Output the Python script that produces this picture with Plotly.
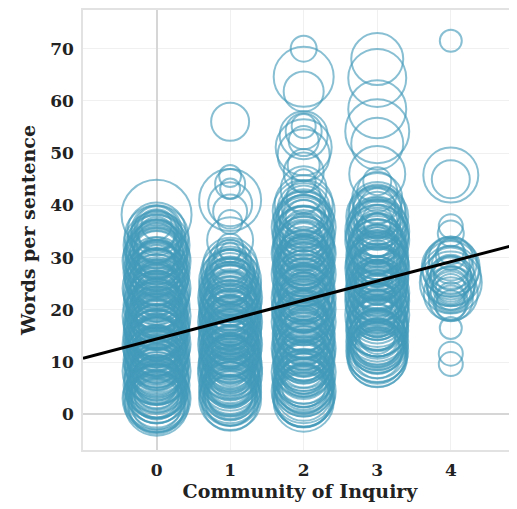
import plotly.graph_objects as go

# ---- data: (words per sentence, marker diameter) per Community-of-Inquiry level ----
coi_levels = [0, 1, 2, 3, 4]

cat0 = [(38.2,70),(35.6,44),(35.0,58),(34.3,36),(33.9,64),(33.4,50),(32.8,40),(32.4,66),(31.9,54),(31.3,46),(30.8,62),(30.2,38),(29.8,56),(29.3,68),(28.7,48),
        (28.2,60),(27.8,42),(27.1,66),(26.7,52),(26.0,36),(25.6,62),(25.2,46),(24.5,58),(24.1,68),(23.7,40),(23.2,54),(22.6,64),(22.3,48),(21.7,60),(21.4,38),
        (20.9,66),(20.5,52),(20.0,44),(19.7,62),(19.1,56),(18.8,68),(18.3,40),(17.9,58),(17.5,50),(17.0,64),(16.7,46),(16.2,60),(15.8,36),(15.3,66),(15.0,54),
        (14.6,42),(14.1,62),(13.8,50),(13.4,68),(12.9,58),(12.5,44),(12.2,64),(11.7,52),(11.3,60),(10.9,38),(10.4,66),(10.0,56),(9.6,48),(9.1,62),(8.7,42),
        (8.3,68),(7.8,54),(7.5,60),(7.0,46),(6.5,64),(6.1,52),(5.6,66),(5.2,44),(4.7,58),(4.3,62),(3.8,50),(3.3,66),(2.8,56),(2.5,62),(3.0,68),
        (34.0,52),(31.6,60),(29.0,44),(26.4,64),(23.9,50),(21.9,58),(19.4,48),(17.2,66),(15.6,56),(13.2,40),(11.1,62),(8.9,58),(6.8,48),(4.5,54),(27.5,56),
        (30.0,66),(24.9,42),(20.2,60),(16.0,52),(12.0,48),(8.0,64),(5.0,60),(22.9,44),(18.5,62),(14.4,58),(10.2,46),(32.9,58),(28.4,52),(21.1,50),(7.3,56),
        (36.2,30),(35.2,50),(32.2,62),(26.9,46),(9.4,52),(3.6,44),(1.9,50),(2.2,58),
        (33.1,44),(31.1,52),(29.6,62),(27.4,46),(25.4,54),(23.4,66),(21.6,46),(19.9,56),(18.1,52),(16.4,64),(14.8,48),(13.0,60),(11.5,46),(9.9,64),(8.5,52),
        (6.3,58),(4.9,48),(3.2,52),(2.0,64),(30.5,48),(26.2,58),(22.1,62),(17.7,44),(13.6,54),(9.8,40),(5.4,56),(35.4,40),(28.9,36),(24.4,50),(19.0,42),
        (15.1,62),(10.6,58),(6.0,42),(32.6,48),(27.0,62),(20.7,58),(12.7,66),(7.7,50),(4.0,60),(1.6,56)]

cat1 = [(56.0,38),(45.6,22),(44.1,30),(43.2,20),(41.0,62),(40.2,44),(38.8,34),(36.8,24),(33.3,46),(32.1,26),(31.0,20),(30.3,32),(29.4,42),(28.6,54),
        (27.8,40),(27.2,58),(26.6,34),(26.1,50),(25.5,62),(25.0,44),(24.4,56),(23.9,36),(23.4,60),(22.8,48),(22.3,64),(21.8,40),(21.2,54),(20.7,60),(20.2,46),
        (19.6,62),(19.1,38),(18.6,56),(18.0,50),(17.6,64),(17.1,42),(16.5,58),(16.0,48),(15.5,62),(15.0,36),(14.5,56),(14.0,52),(13.4,64),(12.9,44),(12.4,60),
        (11.9,50),(11.3,58),(10.8,40),(10.3,62),(9.8,54),(9.2,46),(8.7,60),(8.2,50),(7.7,64),(7.1,42),(6.6,56),(6.1,48),(5.5,62),(5.0,52),(4.5,58),
        (4.0,46),(3.5,60),(3.0,54),(2.6,50),(2.9,62),(24.6,42),(22.0,52),(19.4,58),(16.8,46),(14.2,62),(11.6,56),(9.0,38),(6.4,60),(20.9,34),(15.8,30),
        (12.2,36),(8.5,44),(25.8,46),(18.3,42),(13.7,48),(10.0,52),(7.4,58),(23.1,58),(17.4,54),(26.9,48),(21.5,62),(16.2,40),(5.8,44),(3.8,52),(28.1,36),
        (12.6,56),(9.5,62),(18.9,50),(14.8,44),(22.6,38),
        (27.5,48),(25.2,40),(23.7,52),(21.0,44),(19.8,50),(17.9,60),(15.2,52),(13.1,58),(11.0,46),(9.6,58),(8.0,56),(6.9,50),(5.2,56),(3.3,44),(2.2,56),
        (26.3,56),(24.0,62),(20.4,56),(16.6,62),(14.3,40),(12.0,62),(10.5,48),(7.9,42),(4.2,62),(22.4,56),(18.7,44),(15.6,56),(6.2,52),(25.1,52),(19.0,62),
        (13.9,56),(8.9,64)]

cat2 = [(70.0,26),(64.6,60),(61.8,40),(55.2,24),(54.2,36),(53.4,48),(52.3,30),(51.1,56),(49.6,52),(47.7,32),(46.3,40),(44.6,24),(43.1,46),(41.5,34),
        (40.2,58),(39.6,44),(38.9,62),(38.3,50),(37.6,36),(37.0,60),(36.4,48),(35.8,64),(35.1,42),(34.5,56),(33.9,62),(33.2,38),(32.7,54),(32.0,60),(31.5,46),
        (30.8,64),(30.3,40),(29.6,58),(29.1,52),(28.5,62),(27.9,44),(27.3,56),(26.8,64),(26.2,48),(25.6,60),(25.1,38),(24.5,54),(23.9,62),(23.3,46),(22.8,58),
        (22.2,64),(21.6,42),(21.1,56),(20.5,50),(19.9,62),(19.4,40),(18.8,58),(18.2,48),(17.7,64),(17.1,52),(16.5,60),(16.0,44),(15.4,62),(14.8,54),(14.3,38),
        (13.7,60),(13.2,50),(12.6,64),(12.0,46),(11.5,58),(10.9,62),(10.3,42),(9.8,56),(9.2,60),(8.6,50),(8.1,64),(7.5,44),(7.0,58),(6.4,62),(5.8,52),
        (5.3,60),(4.7,48),(4.1,56),(3.6,62),(3.0,58),(2.7,54),(35.4,32),(31.1,36),(27.6,40),(24.0,34),(20.8,30),(17.4,36),(14.0,42),(10.6,34),(7.8,40),
        (33.5,48),(28.8,50),(24.8,44),(21.4,60),(18.5,56),(15.1,48),(12.3,54),(9.5,46),(6.7,56),(38.0,42),(30.0,54),(26.5,36),(23.6,52),(19.1,46),(16.3,58),
        (13.0,40),(8.9,52),(5.5,44),(36.8,54),(32.4,44),(28.2,60),(22.5,48),(11.2,50),(4.4,64),
        (39.3,52),(37.3,56),(35.0,50),(33.0,58),(31.3,62),(29.4,48),(27.1,60),(25.4,54),(23.1,60),(21.0,52),(19.6,54),(17.9,60),(15.8,56),(14.5,62),(12.8,58),
        (11.0,54),(9.0,60),(7.2,54),(5.1,58),(3.3,60),(2.4,60),(36.0,58),(30.6,50),(26.0,56),(20.2,64),(16.8,50),(12.1,62),(8.3,56),(4.9,52),(34.2,60),
        (28.0,56),(22.0,50),(18.0,44),(10.0,58),(6.0,60)]

cat3 = [(68.0,52),(64.4,58),(58.4,58),(54.2,64),(51.8,52),(46.0,56),(44.6,28),(42.6,40),(41.4,50),
        (39.8,36),(39.1,56),(38.4,44),(37.8,62),(37.2,30),(36.5,52),(35.9,60),(35.3,40),(34.6,58),(34.0,48),(33.4,64),(32.8,36),(32.2,54),(31.6,60),(31.0,44),
        (30.4,62),(29.8,50),(29.2,58),(28.6,40),(28.0,64),(27.4,48),(26.8,56),(26.2,62),(25.6,38),(25.0,54),(24.4,60),(23.8,46),(23.2,64),(22.6,52),(22.0,58),
        (21.4,40),(20.8,62),(20.2,50),(19.6,56),(19.0,64),(18.4,44),(17.8,60),(17.2,52),(16.6,58),(16.0,62),(15.4,46),(14.8,56),(14.2,60),(13.6,50),(13.0,54),
        (12.4,58),(11.8,60),(11.2,56),(10.7,58),(36.0,26),(33.0,30),(30.0,34),(27.0,28),(24.0,32),(21.0,30),(18.0,34),(15.0,36),(38.6,50),(34.3,42),(29.5,46),
        (25.3,44),(22.3,36),(19.3,48),(16.3,42),(13.3,44),(31.9,56),(27.7,52),(23.5,58),(20.5,46),(17.5,54),(14.5,52),(11.5,48),(35.0,64),(28.3,62),(21.7,64),
        (26.5,32),(32.5,40),(18.7,38),
        (39.4,48),(38.0,58),(36.8,46),(35.6,56),(34.1,62),(32.4,58),(30.8,52),(29.0,62),(27.2,58),(25.8,62),(24.8,50),(23.0,56),(21.9,48),(20.0,60),(18.9,56),
        (17.0,62),(15.8,54),(14.6,58),(13.9,62),(12.7,52),(12.1,62),(11.0,60),(37.0,40),(33.7,50),(29.9,56),(26.0,44),(22.8,62),(19.8,42),(16.8,60),(13.8,56)]

cat4 = [(71.5,22),(45.8,55),(45.0,38),(36.0,24),(34.6,26),(16.5,22),(11.6,24),(9.6,24),
        (31.2,26),(30.5,30),(29.8,44),(29.0,52),(28.6,38),(28.1,58),(27.5,46),(27.0,34),(26.4,60),(26.0,42),(25.5,50),(25.0,36),
        (24.6,48),(24.0,30),(23.5,40),(23.1,54),(22.6,28),(22.0,44),(21.4,34),(20.8,30),(27.8,56),(26.7,40),(25.2,62),(24.3,36),(23.8,46)]

categories = [cat0, cat1, cat2, cat3, cat4]

trend_intercept = 14.4
trend_slope = 3.7

x_range = [-1.0, 4.9]
y_range = [-6.85, 77.4]
y_ticks = [0, 10, 20, 30, 40, 50, 60, 70]

x_title = "Community of Inquiry"
y_title = "Words per sentence"

# ---- figure ----
ring_color = "rgba(66,153,186,0.9)"
serif = "DejaVu Serif"

xs, ys, ss = [], [], []
for lvl, pts in zip(coi_levels, categories):
    for yv, sz in pts:
        xs.append(lvl)
        ys.append(yv)
        ss.append(sz)

fig = go.Figure()
fig.add_trace(go.Scatter(
    x=xs, y=ys, mode="markers",
    marker=dict(symbol="circle-open", size=ss, color=ring_color,
                line=dict(width=2.0, color=ring_color)),
    hoverinfo="skip", showlegend=False,
))

trend_x = x_range
trend_y = [trend_intercept + trend_slope * v for v in trend_x]
fig.add_trace(go.Scatter(
    x=trend_x, y=trend_y, mode="lines",
    line=dict(color="black", width=3), showlegend=False, hoverinfo="skip",
))

fig.update_layout(
    width=509, height=501,
    margin=dict(l=75, r=0, t=0, b=59),
    paper_bgcolor="white", plot_bgcolor="white",
    font=dict(family=serif, color="#222"),
)
fig.update_xaxes(
    range=x_range, tickmode="array", tickvals=coi_levels,
    ticktext=[str(v) for v in coi_levels],
    showgrid=True, gridcolor="#f0f0f0", gridwidth=1,
    zeroline=True, zerolinecolor="#d6d6d6", zerolinewidth=1.5,
    showline=True, linecolor="#e2e2e2", linewidth=1.5, mirror=True,
    ticks="", ticklabelstandoff=4,
    tickfont=dict(family=serif, size=17, weight="bold", color="#222"),
    title=dict(text=x_title, font=dict(family=serif, size=19, weight="bold", color="#222"), standoff=6),
)
fig.update_yaxes(
    range=y_range, tickmode="array", tickvals=y_ticks,
    showgrid=True, gridcolor="#f0f0f0", gridwidth=1,
    zeroline=True, zerolinecolor="#d6d6d6", zerolinewidth=1.5,
    showline=True, linecolor="#e2e2e2", linewidth=1.5, mirror=False,
    ticks="", ticklabelstandoff=4,
    tickfont=dict(family=serif, size=17, weight="bold", color="#222"),
    title=dict(text=y_title, font=dict(family=serif, size=19, weight="bold", color="#222"), standoff=10),
)

fig.write_html("out.html")
